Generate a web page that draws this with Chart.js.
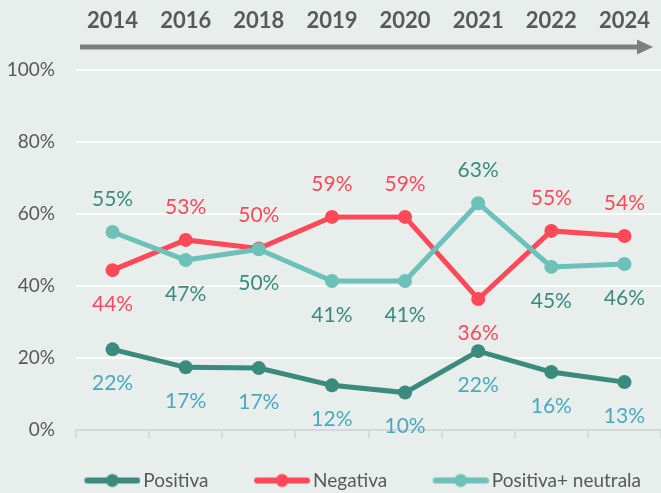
<!DOCTYPE html>
<html>
<head>
<meta charset="utf-8">
<script src="https://cdn.jsdelivr.net/npm/chart.js@4.4.1/dist/chart.umd.min.js"></script>
<style>
  html, body { margin: 0; padding: 0; background: #e7eeec; }
  #wrap { width: 661px; height: 493px; position: relative; }
</style>
</head>
<body>
<div id="wrap"><canvas id="c"></canvas></div>
<script>
// ---- data ----
const categories = ['2014', '2016', '2018', '2019', '2020', '2021', '2022', '2024'];
const seriesNames = ['Positiva', 'Negativa', 'Positiva+ neutrala'];
const positiva = [22.4, 17.4, 17.2, 12.4, 10.4, 21.9, 16.1, 13.3];
const negativa = [44.4, 52.8, 50.4, 59.2, 59.2, 36.4, 55.3, 53.9];
const positivaNeutrala = [55.0, 47.2, 50.2, 41.4, 41.4, 63.0, 45.3, 46.1];
const yTickValues = [0, 20, 40, 60, 80, 100];

// ---- styles ----
const lineColors = ['#3a8a7e', '#ff4858', '#6cc1b8'];
const labelColors = ['#4aa9c0', '#ff4858', '#3a8a7e'];
const textGrey = '#595959';
const FONT = 'Lato, "Open Sans", sans-serif';

function legendIcon(color) {
  const cv = document.createElement('canvas');
  cv.width = 88; cv.height = 16;
  const g = cv.getContext('2d');
  g.strokeStyle = color; g.lineWidth = 6; g.lineCap = 'round';
  g.beginPath(); g.moveTo(35, 8); g.lineTo(85, 8); g.stroke();
  g.fillStyle = color;
  g.beginPath(); g.arc(60, 8, 6.5, 0, Math.PI * 2); g.fill();
  return cv;
}
const icons = lineColors.map(legendIcon);

const bgPlugin = {
  id: 'bg',
  beforeDraw(chart) {
    const ctx = chart.ctx;
    ctx.save();
    ctx.fillStyle = '#e7eeec';
    ctx.fillRect(0, 0, chart.width, chart.height);
    ctx.restore();
  }
};

const arrowPlugin = {
  id: 'arrow',
  afterDraw(chart) {
    const {ctx, chartArea} = chart;
    const y = chartArea.top - 23;
    const x0 = chartArea.left + 4, x1 = chartArea.right - 8, head = 16;
    ctx.save();
    ctx.strokeStyle = '#7f7f7f';
    ctx.fillStyle = '#7f7f7f';
    ctx.lineWidth = 5;
    ctx.beginPath(); ctx.moveTo(x0, y); ctx.lineTo(x1 - head + 1, y); ctx.stroke();
    ctx.beginPath(); ctx.moveTo(x1 - head, y - 7.5); ctx.lineTo(x1, y); ctx.lineTo(x1 - head, y + 7.5); ctx.closePath(); ctx.fill();
    ctx.restore();
  }
};

const labelPlugin = {
  id: 'vlabels',
  afterDatasetsDraw(chart) {
    const ctx = chart.ctx;
    const ds = chart.data.datasets;
    ctx.save();
    ctx.font = '21px ' + FONT;
    ctx.textAlign = 'center';
    ctx.textBaseline = 'middle';
    ds.forEach((d, i) => {
      const meta = chart.getDatasetMeta(i);
      meta.data.forEach((pt, j) => {
        const v = d.data[j];
        const mx = Math.max(...ds.map(o => o.data[j]));
        const above = v === mx;
        ctx.fillStyle = labelColors[i];
        ctx.fillText(Math.round(v) + '%', pt.x, pt.y + (above ? -33 : 34));
      });
    });
    ctx.restore();
  }
};

const seriesData = [positiva, negativa, positivaNeutrala];
const datasets = seriesData.map((arr, i) => ({
  label: seriesNames[i],
  data: arr,
  borderColor: lineColors[i],
  backgroundColor: lineColors[i],
  borderWidth: 5,
  pointRadius: 7,
  pointBorderWidth: 0,
  pointBackgroundColor: lineColors[i],
  tension: 0,
  clip: false,
  order: [2, 1, 0][i],
  xAxisID: 'x',
  yAxisID: 'y'
}));

new Chart(document.getElementById('c'), {
  type: 'line',
  data: { labels: categories, datasets },
  options: {
    responsive: true,
    maintainAspectRatio: false,
    animation: false,
    events: [],
    layout: { autoPadding: false, padding: { left: 0, right: 0, top: 0, bottom: 0 } },
    plugins: {
      tooltip: { enabled: false },
      legend: {
        position: 'bottom',
        align: 'end',
        maxHeight: 42,
        labels: {
          usePointStyle: true,
          pointStyleWidth: 75,
          padding: 20,
          color: textGrey,
          font: { family: FONT, size: 19 },
          generateLabels(chart) {
            return chart.data.datasets.map((d, i) => ({
              text: d.label,
              pointStyle: icons[i],
              fillStyle: lineColors[i],
              strokeStyle: lineColors[i],
              lineWidth: 0,
              fontColor: textGrey,
              hidden: false,
              datasetIndex: i
            }));
          }
        }
      }
    },
    scales: {
      x: {
        type: 'category',
        position: 'bottom',
        offset: true,
        grid: {
          offset: true,
          drawOnChartArea: false,
          drawTicks: true,
          tickLength: 8,
          color: '#d6d9d9',
          lineWidth: 2
        },
        border: { display: true, color: '#d6d9d9', width: 2 },
        ticks: { display: false },
        afterFit(s) { s.height = 21; s.paddingLeft = 0; s.paddingRight = 0; }
      },
      xTop: {
        type: 'category',
        position: 'top',
        offset: true,
        labels: categories,
        grid: { display: false, drawTicks: false },
        border: { display: false },
        ticks: {
          padding: 36,
          color: textGrey,
          font: { family: FONT, size: 22, weight: 'bold' },
          maxRotation: 0,
          autoSkip: false
        },
        afterFit(s) { s.height = 70; s.paddingLeft = 0; s.paddingRight = 0; }
      },
      y: {
        min: 0,
        max: 100,
        afterBuildTicks(s) { s.ticks = yTickValues.map(v => ({ value: v })); },
        grid: {
          drawTicks: false,
          lineWidth: 2,
          color: (c) => c.tick && c.tick.value === 0 ? 'rgba(0,0,0,0)' : '#ffffff'
        },
        border: { display: false },
        ticks: {
          padding: 21,
          color: textGrey,
          font: { family: FONT, size: 19 },
          callback: (v) => v + '%'
        },
        afterFit(s) { s.width = 76; }
      }
    }
  },
  plugins: [bgPlugin, arrowPlugin, labelPlugin]
});
</script>
</body>
</html>
